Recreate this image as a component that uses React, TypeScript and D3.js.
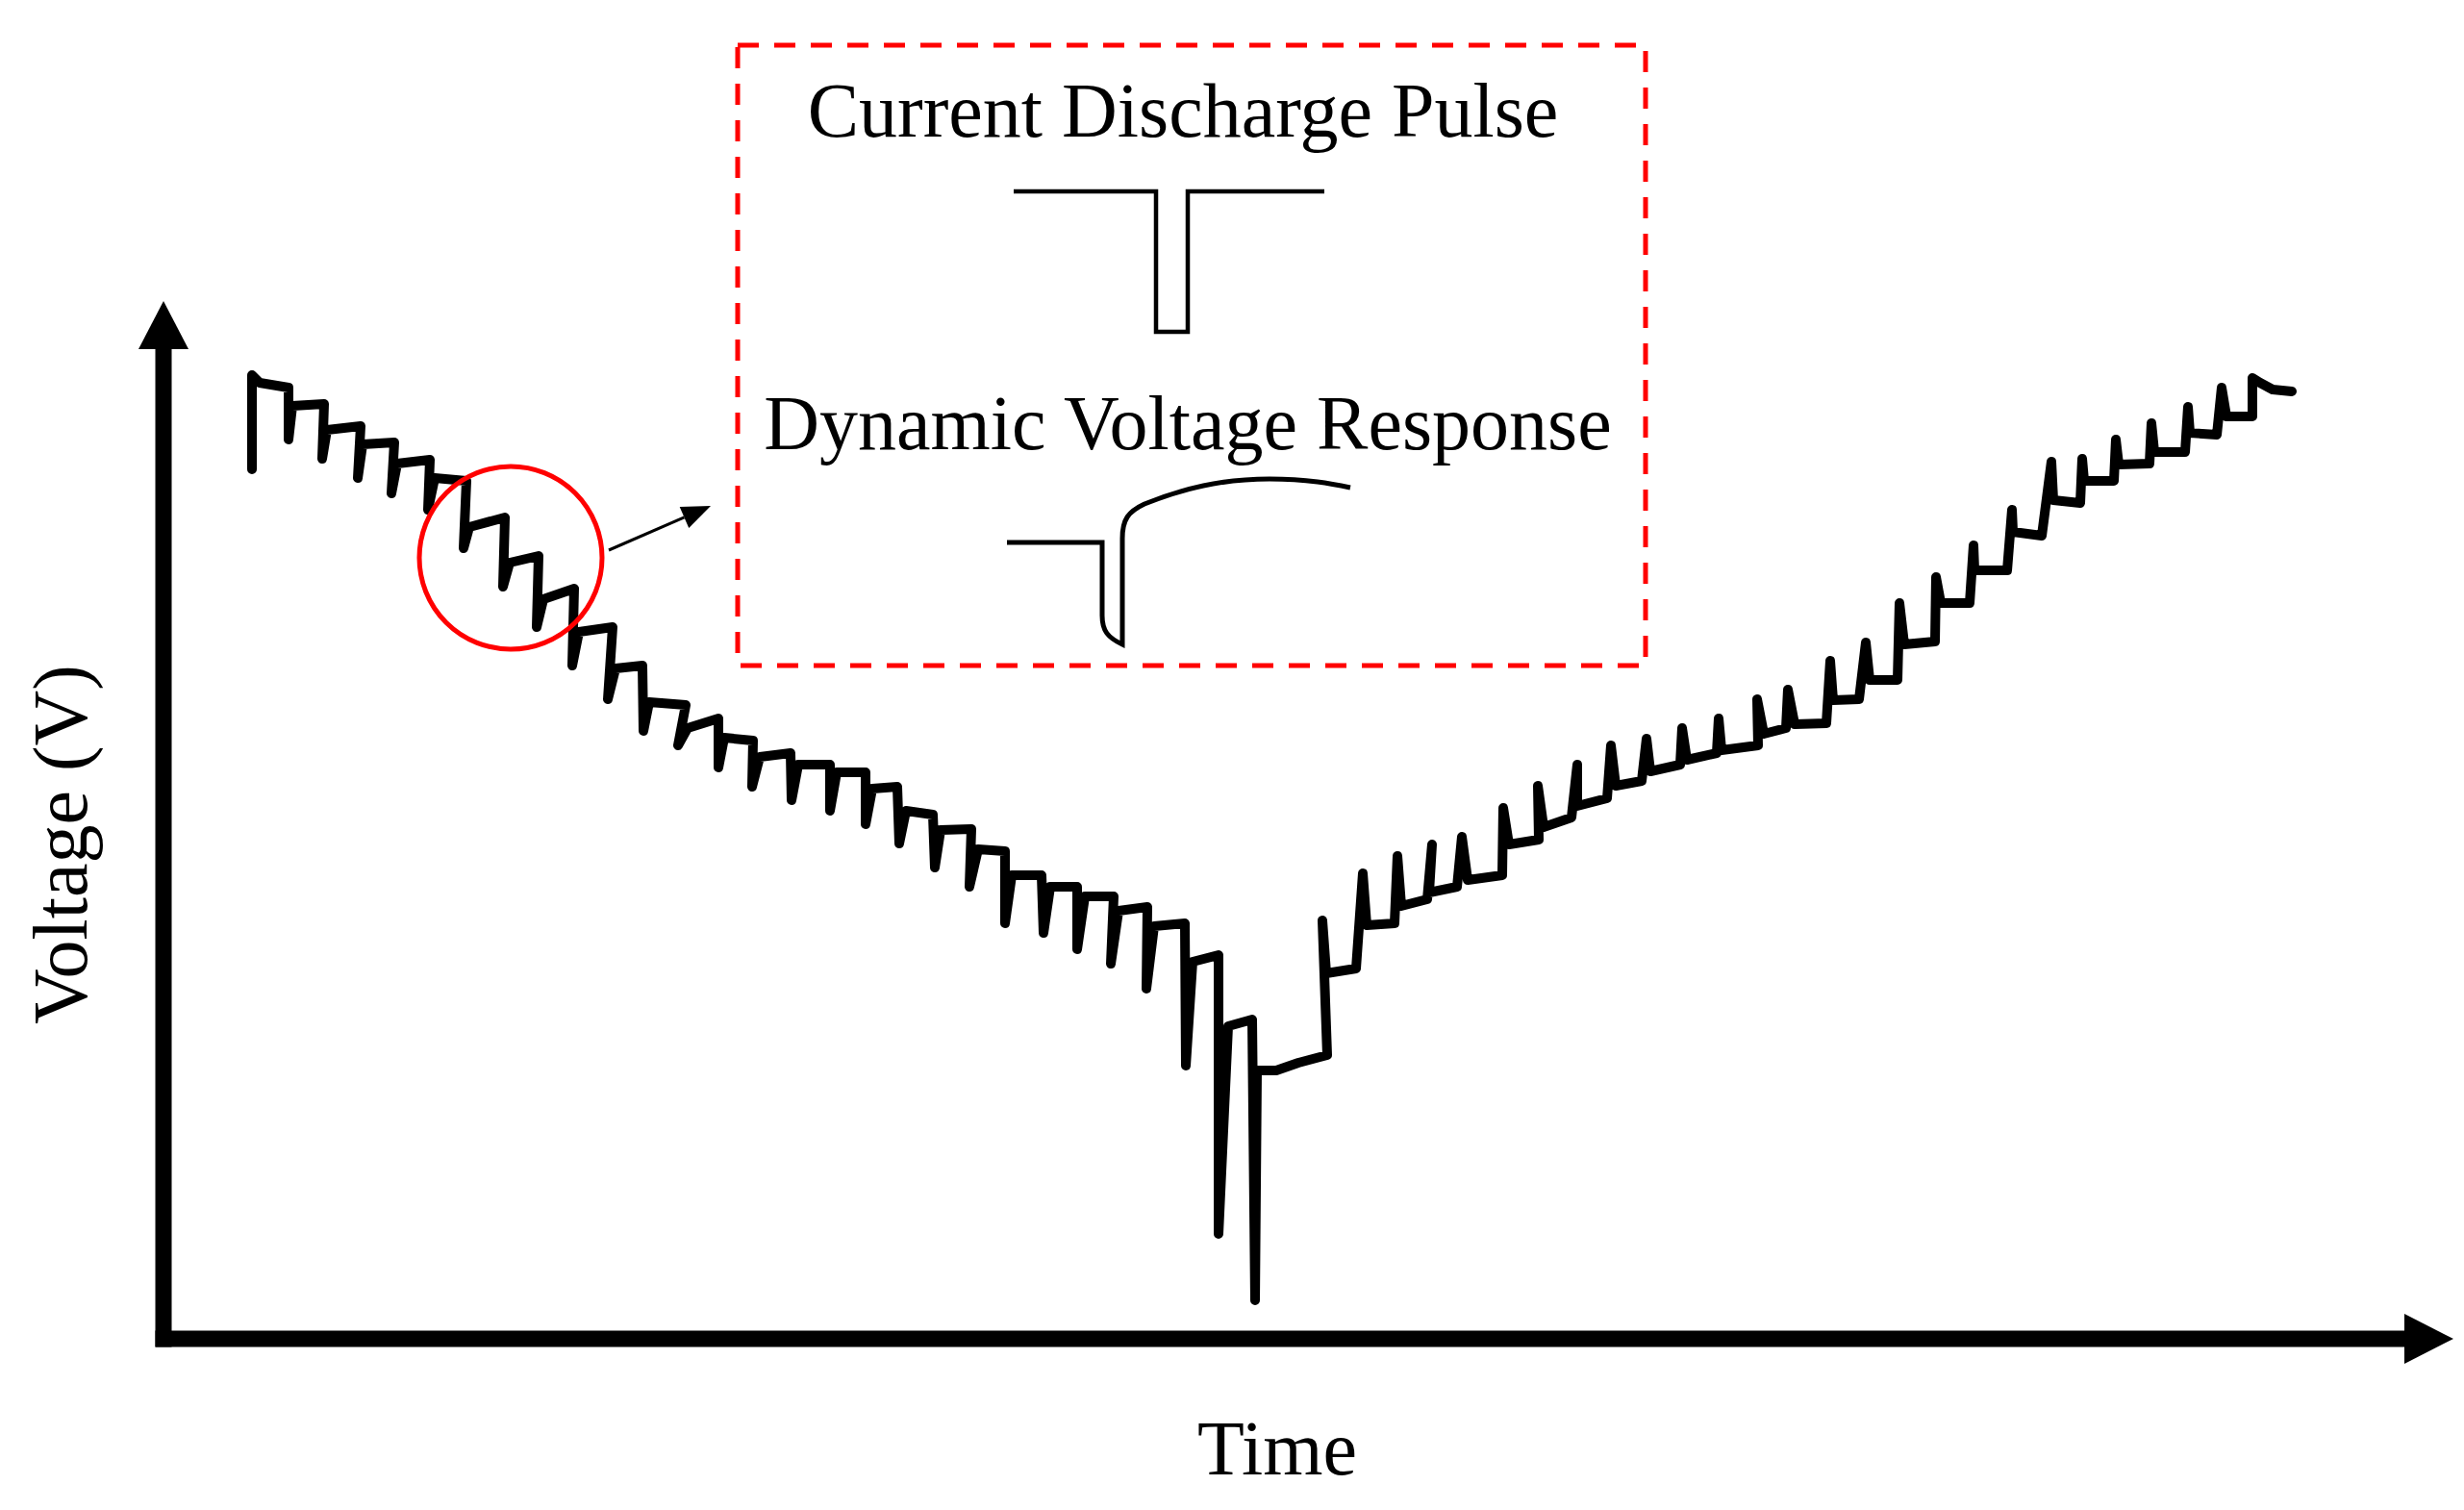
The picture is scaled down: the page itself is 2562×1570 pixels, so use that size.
import React from "react";
import * as d3 from "d3";

// Schematic voltage trace (arbitrary units): discharge with pulse relaxations, then charge
const dischargeTime = [92, 92, 100, 130, 130, 134, 167, 165, 170, 205, 202, 207, 240, 237, 243, 277, 275, 282, 315, 312, 318, 355, 353, 360, 390, 388, 395, 427, 425, 432, 467, 462, 470, 498, 499, 505, 543, 535, 545, 577, 577, 583, 613, 612, 620, 652, 653, 660, 693, 693, 700, 730, 730, 737, 763, 765, 772, 800, 802, 808, 840, 838, 847, 875, 875, 882, 913, 915, 922, 950, 950, 958, 988, 985, 993, 1023, 1022, 1030, 1062, 1063, 1070, 1097, 1097, 1107, 1132, 1135, 1137, 1157, 1180, 1210];
const dischargeVoltage = [904, 1002, 994, 989, 935, 970, 972, 915, 945, 949, 895, 930, 932, 879, 910, 914, 862, 895, 892, 822, 844, 854, 782, 807, 814, 740, 769, 780, 700, 735, 740, 665, 697, 700, 632, 662, 659, 617, 635, 645, 594, 625, 622, 574, 605, 609, 560, 597, 597, 549, 589, 589, 535, 572, 574, 515, 549, 545, 490, 529, 530, 470, 509, 507, 432, 482, 482, 422, 470, 470, 405, 460, 460, 390, 445, 449, 364, 429, 432, 284, 392, 399, 109, 325, 332, 40, 279, 279, 287, 295];
const chargeTime = [1205, 1209, 1240, 1247, 1251, 1280, 1283, 1287, 1314, 1319, 1316, 1345, 1350, 1356, 1392, 1393, 1399, 1430, 1429, 1435, 1464, 1470, 1470, 1501, 1505, 1510, 1537, 1542, 1546, 1577, 1579, 1584, 1615, 1617, 1620, 1658, 1657, 1664, 1687, 1689, 1696, 1729, 1733, 1736, 1763, 1770, 1774, 1803, 1805, 1810, 1842, 1843, 1848, 1878, 1882, 1883, 1917, 1922, 1923, 1953, 1963, 1965, 1993, 1995, 1997, 2028, 2030, 2033, 2065, 2067, 2070, 2102, 2105, 2107, 2135, 2140, 2145, 2172, 2172, 2180, 2193, 2213];
const chargeVoltage = [435, 380, 385, 484, 430, 432, 502, 450, 457, 514, 464, 470, 522, 477, 482, 552, 514, 519, 575, 532, 542, 597, 554, 562, 617, 575, 580, 624, 590, 597, 635, 602, 609, 645, 612, 617, 665, 629, 635, 675, 639, 640, 705, 664, 665, 724, 685, 685, 765, 722, 725, 792, 765, 765, 825, 799, 799, 862, 839, 835, 912, 872, 869, 915, 892, 892, 935, 909, 910, 952, 922, 922, 969, 942, 940, 989, 959, 959, 999, 994, 987, 985];

const insetTitles = ["Current Discharge Pulse", "Dynamic Voltage Response"];
const axisTitles = { x: "Time", y: "Voltage (V)" };

const W = 2562;
const H = 1570;
const FONT = "'Liberation Serif', 'Times New Roman', serif";

export default function App() {
  const xScale = d3.scaleLinear().domain([0, 2330]).range([170, 2500]);
  const yScale = d3.scaleLinear().domain([0, 1029]).range([1392, 363]);

  const pts: [number, number][] = [
    ...dischargeTime.map((t, i) => [t, dischargeVoltage[i]] as [number, number]),
    ...chargeTime.map((t, i) => [t, chargeVoltage[i]] as [number, number]),
  ];
  const line = d3
    .line<[number, number]>()
    .x((d) => xScale(d[0]))
    .y((d) => yScale(d[1]));

  const x0 = xScale(0);
  const y0 = yScale(0);
  const xEnd = xScale.range()[1];
  const yTop = yScale.range()[1];

  // annotation arrow geometry
  const a1 = [633, 572];
  const tip = [739, 526];
  const dx = tip[0] - a1[0];
  const dy = tip[1] - a1[1];
  const len = Math.hypot(dx, dy);
  const ux = dx / len;
  const uy = dy / len;
  const hl = 30;
  const hw = 12;
  const bx = tip[0] - ux * hl;
  const by = tip[1] - uy * hl;

  return (
    <svg
      width={W}
      height={H}
      style={{ position: "absolute", left: 0, top: 0, background: "#fff" }}
    >
      <rect x={0} y={0} width={W} height={H} fill="#fff" />
      {/* axes */}
      <line x1={x0} y1={yTop} x2={x0} y2={y0 + 8.5} stroke="#000" strokeWidth={17} />
      <polygon points={`${x0},${yTop - 50} ${x0 - 26},${yTop} ${x0 + 26},${yTop}`} fill="#000" />
      <line x1={x0 - 8.5} y1={y0} x2={xEnd} y2={y0} stroke="#000" strokeWidth={17} />
      <polygon points={`${xEnd + 51},${y0} ${xEnd},${y0 - 26} ${xEnd},${y0 + 26}`} fill="#000" />

      {/* trace */}
      <path
        d={line(pts) || ""}
        fill="none"
        stroke="#000"
        strokeWidth={10}
        strokeLinejoin="round"
        strokeLinecap="round"
      />

      {/* highlight circle and arrow */}
      <circle cx={531} cy={580} r={95} fill="none" stroke="#ff0000" strokeWidth={5} />
      <line x1={a1[0]} y1={a1[1]} x2={bx} y2={by} stroke="#000" strokeWidth={3} />
      <polygon
        points={`${tip[0]},${tip[1]} ${bx + uy * hw},${by - ux * hw} ${bx - uy * hw},${by + ux * hw}`}
        fill="#000"
      />

      {/* inset */}
      <rect
        x={767}
        y={47}
        width={944}
        height={645}
        fill="none"
        stroke="#ff0000"
        strokeWidth={5}
        strokeDasharray="22 16"
      />
      <text x={1230} y={142} fontFamily={FONT} fontSize={80} textAnchor="middle" fill="#000">
        {insetTitles[0]}
      </text>
      <polyline
        points="1054,199 1202,199 1202,345 1235,345 1235,199 1377,199"
        fill="none"
        stroke="#000"
        strokeWidth={4.5}
      />
      <text x={1235} y={467} fontFamily={FONT} fontSize={80} textAnchor="middle" fill="#000">
        {insetTitles[1]}
      </text>
      <path
        d="M1047,564 L1146,564 L1146,640 C1146,656 1152,663 1167,670 L1167,560 C1167,540 1173,532 1190,524 C1230,508 1270,498 1320,498 C1360,498 1385,503 1404,507"
        fill="none"
        stroke="#000"
        strokeWidth={5}
      />

      {/* axis titles */}
      <text x={1328} y={1533} fontFamily={FONT} fontSize={80} textAnchor="middle" fill="#000">
        {axisTitles.x}
      </text>
      <text
        transform="translate(90,878) rotate(-90)"
        fontFamily={FONT}
        fontSize={80}
        textAnchor="middle"
        fill="#000"
      >
        {axisTitles.y}
      </text>
    </svg>
  );
}
